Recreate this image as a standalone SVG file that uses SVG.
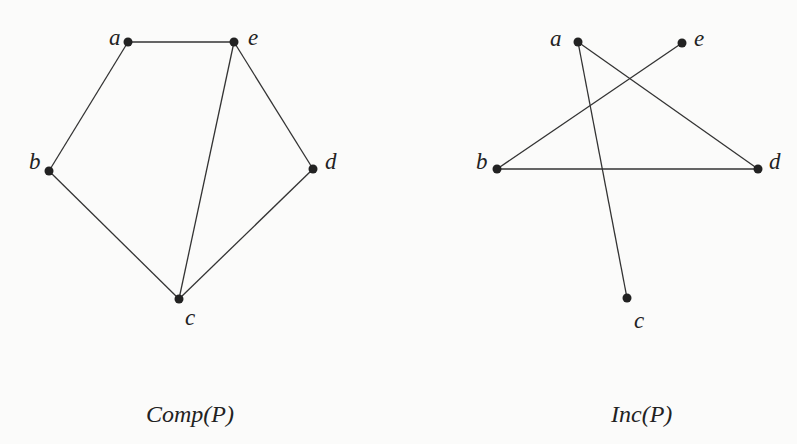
<svg xmlns="http://www.w3.org/2000/svg" width="797" height="444" viewBox="0 0 797 444">
<style>
.e{stroke:#333;stroke-width:1.3;fill:none}
.n{fill:#222}
.l{font-family:"Liberation Serif",serif;font-style:italic;font-size:23px;fill:#222}
.t{font-family:"Liberation Serif",serif;font-style:italic;font-size:24px;fill:#222}
</style>
<rect width="797" height="444" fill="#fbfbfa"/>
<g id="connectors">
<line class="e" x1="128" y1="42" x2="234" y2="42"/>
<line class="e" x1="128" y1="42" x2="49" y2="171"/>
<line class="e" x1="49" y1="171" x2="179" y2="299"/>
<line class="e" x1="234" y1="42" x2="179" y2="299"/>
<line class="e" x1="234" y1="42" x2="313" y2="169"/>
<line class="e" x1="313" y1="169" x2="179" y2="299"/>
<line class="e" x1="578" y1="42" x2="758" y2="169"/>
<line class="e" x1="578" y1="42" x2="627" y2="298"/>
<line class="e" x1="682" y1="43" x2="497" y2="169"/>
<line class="e" x1="497" y1="169" x2="758" y2="169"/>
</g>
<g id="comp-a"><circle class="n" cx="128" cy="42" r="4.5"/><text class="l" x="109" y="45">a</text></g>
<g id="comp-e"><circle class="n" cx="234" cy="42" r="4.5"/><text class="l" x="248" y="45">e</text></g>
<g id="comp-b"><circle class="n" cx="49" cy="171" r="4.5"/><text class="l" x="29" y="169">b</text></g>
<g id="comp-d"><circle class="n" cx="313" cy="169" r="4.5"/><text class="l" x="325" y="169">d</text></g>
<g id="comp-c"><circle class="n" cx="179" cy="299" r="4.5"/><text class="l" x="185" y="325">c</text></g>
<g id="inc-a"><circle class="n" cx="578" cy="42" r="4.5"/><text class="l" x="550" y="46">a</text></g>
<g id="inc-e"><circle class="n" cx="682" cy="43" r="4.5"/><text class="l" x="694" y="46">e</text></g>
<g id="inc-b"><circle class="n" cx="497" cy="169" r="4.5"/><text class="l" x="476" y="169">b</text></g>
<g id="inc-d"><circle class="n" cx="758" cy="169" r="4.5"/><text class="l" x="769" y="169">d</text></g>
<g id="inc-c"><circle class="n" cx="627" cy="298" r="4.5"/><text class="l" x="634" y="328">c</text></g>
<text class="t" x="146" y="422">Comp(P)</text>
<text class="t" x="611" y="422">Inc(P)</text>
</svg>
